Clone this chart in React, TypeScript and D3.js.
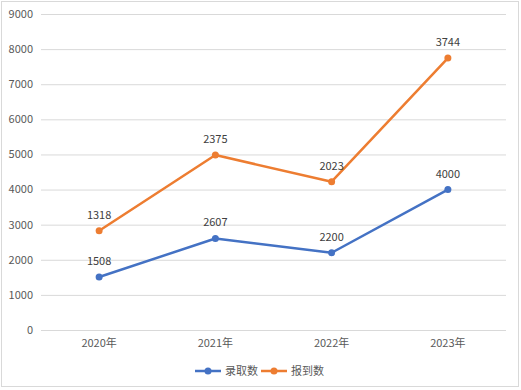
import { useEffect, useRef } from "react"
import * as d3 from "d3"

const years = ["2020年", "2021年", "2022年", "2023年"]
const admitted = [1508, 2607, 2200, 4000]
const enrolled = [1318, 2375, 2023, 3744]
const seriesNames = ["录取数", "报到数"]
const seriesColors = ["#4472C4", "#ED7D31"]
const yTicks = [0, 1000, 2000, 3000, 4000, 5000, 6000, 7000, 8000, 9000]

export default function App() {
  const svgRef = useRef<SVGSVGElement>(null)

  useEffect(() => {
    if (!svgRef.current) return
    const svg = d3.select(svgRef.current)
    svg.selectAll("*").remove()

    const width = 521
    const height = 390
    const margin = { top: 14, right: 15, bottom: 60, left: 41 }
    const innerWidth = width - margin.left - margin.right
    const innerHeight = height - margin.top - margin.bottom
    const font = "'Noto Sans CJK SC', 'Noto Sans', sans-serif"

    // outer frame
    svg.append("rect")
      .attr("x", 1.5).attr("y", 1.5)
      .attr("width", width - 4).attr("height", height - 5)
      .attr("fill", "white").attr("stroke", "#d9d9d9")

    const x = d3.scaleBand().domain(years).range([0, innerWidth])
    const y = d3.scaleLinear().domain([0, 9000]).range([innerHeight, 0])

    const g = svg.append("g").attr("transform", `translate(${margin.left},${margin.top})`)

    // grid
    g.append("g")
      .call(d3.axisLeft(y).tickValues(yTicks).tickSize(-innerWidth).tickFormat(() => ""))
      .call((a) => a.select(".domain").remove())
      .selectAll(".tick line")
      .attr("stroke", "#d9d9d9")

    // y labels
    g.append("g")
      .selectAll("text")
      .data(yTicks)
      .enter()
      .append("text")
      .attr("x", -8)
      .attr("y", (d) => y(d))
      .attr("dy", "0.35em")
      .attr("text-anchor", "end")
      .attr("font-family", font)
      .attr("font-size", "11px")
      .attr("fill", "#595959")
      .text((d) => d)

    // x labels
    g.append("g")
      .selectAll("text")
      .data(years)
      .enter()
      .append("text")
      .attr("x", (d) => (x(d) || 0) + x.bandwidth() / 2)
      .attr("y", innerHeight + 17)
      .attr("text-anchor", "middle")
      .attr("font-family", font)
      .attr("font-size", "11px")
      .attr("fill", "#595959")
      .text((d) => d)

    // stacked series
    const rows = years.map((yr, i) => ({ year: yr, a: admitted[i], b: enrolled[i] }))
    const stacked = d3.stack<{ year: string; a: number; b: number }>().keys(["a", "b"])(rows)

    const line = d3
      .line<d3.SeriesPoint<{ year: string; a: number; b: number }>>()
      .x((d) => (x(d.data.year) || 0) + x.bandwidth() / 2)
      .y((d) => y(d[1]))

    stacked.forEach((s, si) => {
      const color = seriesColors[si]
      g.append("path")
        .datum(s)
        .attr("fill", "none")
        .attr("stroke", color)
        .attr("stroke-width", 2.5)
        .attr("stroke-linejoin", "round")
        .attr("d", line)

      g.selectAll(`.dot${si}`)
        .data(s)
        .enter()
        .append("circle")
        .attr("cx", (d) => (x(d.data.year) || 0) + x.bandwidth() / 2)
        .attr("cy", (d) => y(d[1]))
        .attr("r", 3.5)
        .attr("fill", color)

      g.selectAll(`.lbl${si}`)
        .data(s)
        .enter()
        .append("text")
        .attr("x", (d) => (x(d.data.year) || 0) + x.bandwidth() / 2)
        .attr("y", (d) => y(d[1]) - 12)
        .attr("text-anchor", "middle")
        .attr("font-family", font)
        .attr("font-size", "11px")
        .attr("fill", "#404040")
        .text((d) => d[1] - d[0])
    })

    // legend
    const legend = svg.append("g").attr("transform", `translate(195,${371})`)
    const offsets = [0, 66]
    seriesNames.forEach((name, i) => {
      const lg = legend.append("g").attr("transform", `translate(${offsets[i]},0)`)
      lg.append("line").attr("x1", 0).attr("x2", 26).attr("y1", 0).attr("y2", 0)
        .attr("stroke", seriesColors[i]).attr("stroke-width", 2.5)
      lg.append("circle").attr("cx", 13).attr("cy", 0).attr("r", 3.5).attr("fill", seriesColors[i])
      lg.append("text")
        .attr("x", 30)
        .attr("y", 0)
        .attr("dy", "0.35em")
        .attr("font-family", font)
        .attr("font-size", "11px")
        .attr("fill", "#595959")
        .text(name)
    })
  }, [])

  return (
    <svg
      ref={svgRef}
      width={521}
      height={390}
      style={{ position: "absolute", left: 0, top: 0 }}
    />
  )
}
